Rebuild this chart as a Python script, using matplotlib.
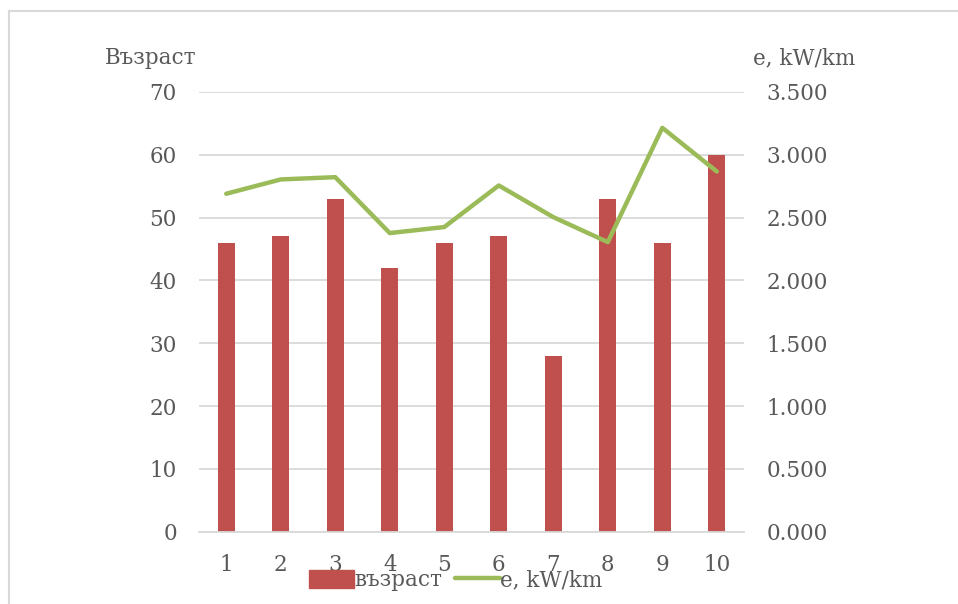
import matplotlib.pyplot as plt
from matplotlib.lines import Line2D
from matplotlib.patches import Rectangle
from matplotlib.ticker import FuncFormatter

# данни
nomera = [1, 2, 3, 4, 5, 6, 7, 8, 9, 10]
vazrast = [46, 47, 53, 42, 46, 47, 28, 53, 46, 60]
energia = [2.690, 2.804, 2.822, 2.377, 2.425, 2.756, 2.504, 2.305, 3.215, 2.867]

cherveno = '#C0504D'
zeleno = '#9BBB59'
siv = '#595959'
mreja = '#D9D9D9'

plt.rcParams['font.family'] = ['DejaVu Serif']
plt.rcParams['font.size'] = 15.5

fig = plt.figure(figsize=(9.58, 6.04), dpi=100)
ax = fig.add_axes([0.2077, 0.1197, 0.5690, 0.7280])
ax2 = ax.twinx()

ax.bar(nomera, vazrast, width=0.31, color=cherveno, zorder=2)
ax2.plot(nomera, energia, color=zeleno, lw=3.2, solid_capstyle='round', zorder=3)

ax.set_xlim(0.5, 10.5)
ax.set_ylim(0, 70)
ax.set_yticks(range(0, 71, 10))
ax2.set_ylim(0, 3.5)
ax2.set_yticks([i * 0.5 for i in range(8)])
ax2.yaxis.set_major_formatter(FuncFormatter(lambda v, p: f'{v:.3f}'))
ax.set_xticks(nomera)

ax.grid(axis='y', color=mreja, lw=1.3, zorder=0)
ax.set_axisbelow(True)
for a in (ax, ax2):
    for s in a.spines.values():
        s.set_visible(False)
    a.tick_params(length=0, colors=siv, labelsize=15.5)
ax.tick_params(axis='y', pad=16)
ax2.tick_params(axis='y', pad=16)
ax.tick_params(axis='x', pad=16)
ax.spines['bottom'].set_visible(True)
ax.spines['bottom'].set_color(mreja)
ax.spines['bottom'].set_linewidth(1.3)

fig.text(105 / 958, 1 - 58 / 604, 'Възраст', color=siv, fontsize=15.5, va='center', ha='left')
fig.text(753 / 958, 1 - 58 / 604, 'e, kW/km', color=siv, fontsize=15.5, va='center', ha='left')

ruchki = [Rectangle((0, 0), 1, 1, color=cherveno),
          Line2D([], [], color=zeleno, lw=3.2, solid_capstyle='round')]
fig.legend(ruchki, ['възраст', 'e, kW/km'], ncol=2, frameon=False,
           loc='center', bbox_to_anchor=(456 / 958, 1 - 580 / 604),
           handlelength=2.1, handleheight=0.9, handletextpad=0.0,
           columnspacing=0.6, labelcolor=siv, fontsize=15.5, borderpad=0)

# рамка около диаграмата
fig.add_artist(Line2D([9 / 958, 9 / 958], [0, 1 - 11 / 604], color=mreja, lw=1.5,
                      transform=fig.transFigure))
fig.add_artist(Line2D([9 / 958, 1], [1 - 11 / 604, 1 - 11 / 604], color=mreja, lw=1.5,
                      transform=fig.transFigure))

fig.savefig('out.png', dpi=100)
